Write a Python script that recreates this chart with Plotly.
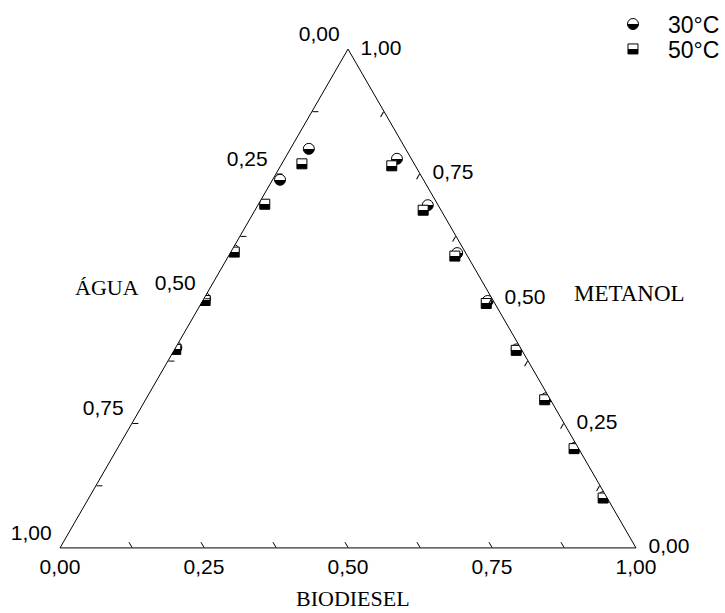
import plotly.graph_objects as go

# Phase compositions (mass fractions) for the água / metanol / biodiesel system
agua_30 = [0.168, 0.249, 0.400, 0.498, 0.597,
           0.025, 0.018, 0.015, 0.010, 0.008, 0.006, 0.005, 0.005]
metanol_30 = [0.800, 0.738, 0.597, 0.500, 0.402,
              0.780, 0.687, 0.591, 0.495, 0.398, 0.300, 0.201, 0.102]
biodiesel_30 = [0.032, 0.013, 0.003, 0.002, 0.001,
                0.195, 0.295, 0.394, 0.495, 0.594, 0.694, 0.794, 0.893]

agua_50 = [0.195, 0.300, 0.401, 0.500, 0.600,
           0.041, 0.031, 0.022, 0.015, 0.010, 0.010, 0.008, 0.007]
metanol_50 = [0.770, 0.689, 0.593, 0.496, 0.398,
              0.766, 0.677, 0.585, 0.490, 0.396, 0.297, 0.199, 0.100]
biodiesel_50 = [0.035, 0.011, 0.006, 0.004, 0.002,
                0.193, 0.292, 0.393, 0.495, 0.594, 0.693, 0.793, 0.893]

tick_vals = [0, 0.125, 0.25, 0.375, 0.5, 0.625, 0.75, 0.875, 1.0]
major_labels = {0: "1,00", 0.25: "0,75", 0.5: "0,50", 0.75: "0,25", 1.0: "0,00"}
tick_text = [major_labels.get(v, "") for v in tick_vals]
# left edge labels sit a little above and away from their ticks,
# right edge labels a little further out from the edge
left_text = [t + "\u00a0<br>" if t else "" for t in tick_text]
right_text = ["\u00a0\u2009" + t if t else "" for t in tick_text]

sans = "Arial, Liberation Sans, sans-serif"
serif = "Times New Roman, Liberation Serif, serif"

fig = go.Figure()

fig.add_trace(go.Scatterternary(
    a=metanol_30, b=agua_30, c=biodiesel_30,
    mode="markers", name="30°C", legend="legend", showlegend=True,
    marker=dict(symbol="circle", size=11, color="white",
                gradient=dict(type="vertical", color="black"),
                line=dict(color="black", width=1)),
))
fig.add_trace(go.Scatterternary(
    a=metanol_50, b=agua_50, c=biodiesel_50,
    mode="markers", name="50°C", legend="legend2", showlegend=True,
    marker=dict(symbol="square", size=10, color="white",
                gradient=dict(type="vertical", color="black"),
                line=dict(color="black", width=1)),
))

axis_common = dict(
    tickmode="array", tickvals=tick_vals,
    ticks="inside", ticklen=6, tickwidth=1, tickcolor="black",
    showline=True, linecolor="black", linewidth=1,
    showgrid=False, tickfont=dict(family=sans, size=21, color="black"),
    title=dict(text=""),
)

legend_common = dict(xanchor="left", yanchor="middle", itemwidth=60,
                     bgcolor="rgba(0,0,0,0)",
                     font=dict(family=sans, size=23, color="black"))

fig.update_layout(
    width=725, height=613,
    showlegend=True,
    margin=dict(l=60, r=89, t=49, b=65, autoexpand=False),
    paper_bgcolor="white",
    ternary=dict(
        sum=1, bgcolor="white",
        domain=dict(x=[0, 1], y=[0, 1]),
        aaxis=dict(axis_common, ticktext=left_text),
        baxis=dict(axis_common, ticktext=tick_text),
        caxis=dict(axis_common, ticktext=right_text),
    ),
    legend=dict(x=0.934, y=1.05, **legend_common),
    legend2=dict(x=0.934, y=1.0, **legend_common),
    annotations=[
        dict(text="ÁGUA", x=0.0816, y=0.523, xref="paper", yref="paper",
             xanchor="center", yanchor="middle", showarrow=False,
             font=dict(family=serif, size=22, color="black")),
        dict(text="METANOL", x=0.988, y=0.511, xref="paper", yref="paper",
             xanchor="center", yanchor="middle", showarrow=False,
             font=dict(family=serif, size=23, color="black")),
        dict(text="BIODIESEL", x=0.509, y=-0.128, xref="paper", yref="paper",
             xanchor="center", yanchor="bottom", showarrow=False,
             borderpad=0,
             font=dict(family=serif, size=22, color="black")),
    ],
)

# Hard split for the half-filled markers: white top half, black bottom half
half_fill = """
document.querySelectorAll('linearGradient stop').forEach(function(s){
    s.setAttribute('offset', '50%');
});
"""

fig.write_html("out.html", post_script=half_fill)
